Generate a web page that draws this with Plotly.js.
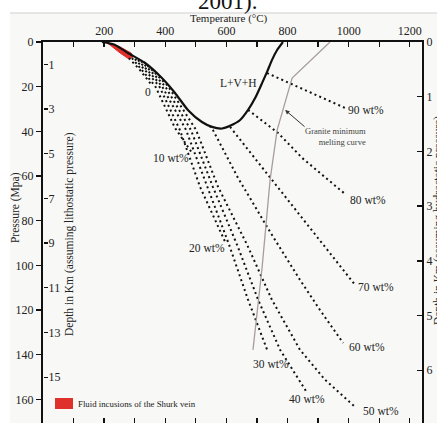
<!DOCTYPE html>
<html><head><meta charset="utf-8">
<script src="https://cdn.plot.ly/plotly-3.0.1.min.js"></script>
<style>html,body{margin:0;padding:0;overflow:hidden;background:#fff}#chart{width:437px;height:428px}</style>
</head><body><div id="chart"></div>
<script>
// Axis ticks
const tempTicks = [0,100,200,300,400,500,600,700,800,900,1000,1100,1200];
const tempLabels = ['0','','200','','400','','600','','800','','1000','','1200'];
const pressureTicks = [0,20,40,60,80,100,120,140,160];
const depthLithoTicks = [1,3,5,7,9,11,13,15];
const depthHydroTicks = [0,1,2,3,4,5,6];

// L+V+H field boundary (solid)
const lvhT = [193,236,278,334,389,432,474,520,553,586,612,645,671,694,717,733,749,766,785];
const lvhP = [0,1.3,4.9,9.4,16.1,22.8,30.4,35.8,38.0,38.7,37.5,34.9,30.4,25.1,18.3,13.4,8.1,3.6,0];

// Fluid inclusions of the Shurk vein (red field)
const fiT = [206,252,288,294,281,252,219,206];
const fiP = [0,2.2,4.9,6.7,7.6,4.9,1.3,0];

// Salinity isopleths (dotted)
const w0T  = [281,317,353];            const w0P  = [7.2,12.5,18.8];
const w10T = [291,367,432,488];        const w10P = [7.2,19.7,38.5,49.7];
const w20T = [301,380,448,514,599];    const w20P = [7.6,19.7,39.4,64.9,90.4];
const w30T = [311,389,468,537,609,671,736];         const w30P = [8.1,19.7,39.4,64.9,90.8,115.4,138.7];
const w40T = [321,399,484,556,635,704,776,864];     const w40P = [8.5,19.7,39.4,64.9,90.8,115.4,137.8,157.0];
const w50T = [330,409,501,573,668,749,841,923,1021]; const w50P = [8.9,19.7,39.4,64.9,90.8,115.4,137.8,151.2,163.3];
const w60T = [545,556,638,743,841,906,982];   const w60P = [37.5,39.4,60.8,85.0,106.5,119.9,134.7];
const w70T = [612,677,743,841,939,1021];      const w70P = [38.0,49.2,60.8,77.4,94.4,108.7];
const w80T = [671,769,848,923,988];           const w80P = [30.4,40.7,51.9,60.4,68.0];
const w90T = [733,857,988];                   const w90P = [13.9,21.5,29.5];

// Granite minimum melting curve
const graniteT = [939,815,766,743,717,687];
const graniteP = [0,16.1,39.4,61.7,100.7,137.8];

const serif = 'Liberation Serif, Times New Roman, serif';
const txt = '#222';
const dotLine = {color:'#111', width:2, dash:'2px,3.2px'};

const iso = [[w0T,w0P],[w10T,w10P],[w20T,w20P],[w30T,w30P],[w40T,w40P],[w50T,w50P],[w60T,w60P],[w70T,w70P],[w80T,w80P],[w90T,w90P]];
const traces = [];
traces.push({x:fiT, y:fiP, mode:'lines', fill:'toself', fillcolor:'#e0302c', line:{color:'#e0302c', width:1}, hoverinfo:'skip'});
iso.forEach(s => traces.push({x:s[0], y:s[1], mode:'lines', line:dotLine, hoverinfo:'skip'}));
traces.push({x:graniteT, y:graniteP, mode:'lines', line:{color:'#a89ca2', width:1.3}, hoverinfo:'skip'});
traces.push({x:lvhT, y:lvhP, mode:'lines', line:{color:'#111', width:2.2, shape:'spline', smoothing:0.6}, hoverinfo:'skip'});
// empty traces so that the extra axes are drawn
traces.push({x:[], y:[], xaxis:'x2', yaxis:'y', mode:'lines', hoverinfo:'skip'});
traces.push({x:[], y:[], xaxis:'x', yaxis:'y2', mode:'lines', hoverinfo:'skip'});
traces.push({x:[], y:[], xaxis:'x', yaxis:'y3', mode:'lines', hoverinfo:'skip'});

function lab(t, x, y, extra){ return Object.assign({text:t, x:x, y:y, xref:'x', yref:'y', xanchor:'center', yanchor:'middle', showarrow:false, font:{family:serif, size:11.5, color:txt}}, extra||{}); }
function pap(t, x, y, extra){ return Object.assign({text:t, x:x, y:y, xref:'paper', yref:'paper', xanchor:'center', yanchor:'middle', showarrow:false, font:{family:serif, size:11.5, color:txt}}, extra||{}); }

const annotations = [
  lab('L+V+H', 638, 18.3),
  lab('0', 344, 22.4),
  lab('10 wt%', 419, 51.9),
  lab('20 wt%', 537, 92.2),
  lab('30 wt%', 746, 144),
  lab('40 wt%', 864, 159.7),
  lab('50 wt%', 1106, 165.1),
  lab('60 wt%', 1060, 136.5),
  lab('70 wt%', 1090, 109.6),
  lab('80 wt%', 1063, 70.7),
  lab('90 wt%', 1057, 30.4),
  lab('Granite minimum<br>melting curve', 1063, 42.3, {xanchor:'right', align:'right', font:{family:serif, size:8.5, color:'#444'}}),
  {x:792, y:30.4, xref:'x', yref:'y', text:'', showarrow:true, ax:21, ay:18, arrowhead:2, arrowsize:0.9, arrowwidth:1, arrowcolor:'#333'},
  pap('Pressure (Mpa)', -0.0739, 0.569, {textangle:-90}),
  pap('Depth in Km (assuming lithostatic pressure)', 0.0712, 0.4987, {textangle:-90}),
  pap('Depth in Km (assuming hydrostatic pressure)', 1.042, 0.535, {textangle:-90}),
  pap('Temperature (°C)', 0.4908, 1.0601, {font:{family:serif, size:11, color:txt}}),
  pap('2001).', 0.4855, 1.1070, {font:{family:serif, size:23, color:'#111'}}),
  pap('Fluid incusions of the Shurk vein', 0.0871, 0.0548, {xanchor:'left', font:{family:serif, size:8.8, color:txt}})
];

const shapes = [
  {type:'rect', xref:'paper', yref:'paper', x0:-0.0871, x1:1.05, y0:-0.05, y1:1.0757, fillcolor:'#f8f8f6', line:{width:0}, layer:'below'},
  {type:'line', xref:'paper', yref:'paper', x0:-0.0871, x1:1.05, y0:1.0757, y1:1.0757, line:{color:'#cfcfcf', width:1}, layer:'below'},
  {type:'rect', xref:'paper', yref:'paper', x0:0.0317, x1:0.0792, y0:0.0418, y1:0.0705, fillcolor:'#e0302c', line:{width:0}}
];

const tickFont = {family:serif, size:12, color:txt};
const layout = {
  width:437, height:428,
  margin:{l:43, r:15, t:42, b:3},
  paper_bgcolor:'#ffffff', plot_bgcolor:'rgba(0,0,0,0)',
  showlegend:false,
  xaxis:{range:[0,1240], side:'top', tickvals:tempTicks, ticktext:tempLabels, ticks:'inside', ticklen:5, tickwidth:1.3, tickcolor:'#111',
         showline:true, linecolor:'#111', linewidth:2, showgrid:false, zeroline:false, tickfont:tickFont},
  xaxis2:{range:[0,1240], overlaying:'x', side:'bottom', anchor:'y', tickvals:tempTicks, showticklabels:false, ticks:'inside', ticklen:7, tickwidth:1.3, tickcolor:'#111',
         showline:true, linecolor:'#111', linewidth:2, showgrid:false, zeroline:false},
  yaxis:{range:[171.4,0], tickvals:pressureTicks, ticks:'outside', ticklen:5, tickwidth:1.3, tickcolor:'#111',
         showline:true, linecolor:'#111', linewidth:2, showgrid:false, zeroline:false, tickfont:tickFont},
  yaxis2:{range:[17.14,0], overlaying:'y', side:'left', anchor:'free', position:0, tickvals:depthLithoTicks, ticks:'inside', ticklen:4, tickwidth:1.3, tickcolor:'#111',
         ticklabelposition:'inside', showline:false, showgrid:false, zeroline:false, tickfont:tickFont},
  yaxis3:{range:[7.0,0], overlaying:'y', side:'right', anchor:'x', tickvals:depthHydroTicks, ticks:'inside', ticklen:5, tickwidth:1.3, tickcolor:'#111',
         showline:true, linecolor:'#111', linewidth:2, showgrid:false, zeroline:false, tickfont:tickFont},
  annotations:annotations, shapes:shapes
};
Plotly.newPlot('chart', traces, layout, {staticPlot:true, displayModeBar:false});
</script></body></html>
